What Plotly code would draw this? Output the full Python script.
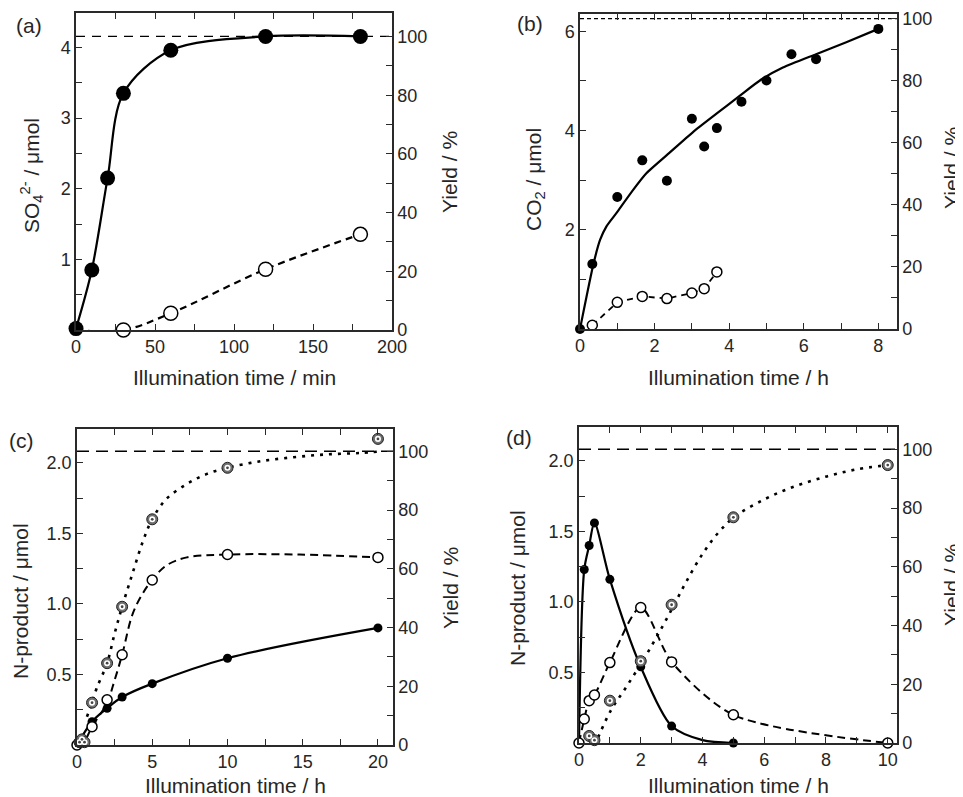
import plotly.graph_objects as go

# page size; the page body adds an 8 px margin, so the figure itself is 8 px smaller
W, H = 963, 797
OFF = 8
FW, FH = W - OFF, H - OFF

# ---------------- Panel (a) ----------------
A_T = [0, 10, 20, 30, 60, 120, 180]
A_SO4 = [0.02, 0.85, 2.15, 3.35, 3.96, 4.155, 4.155]
A_T_YIELD = [0, 30, 60, 120, 180]
A_YIELD = [0, 0, 5.7, 20.7, 32.6]
A_REF_T = [0, 200]
A_REF_UMOL = [4.155, 4.155]          # the 100 % level, in µmol
A_XTICKS = [0, 50, 100, 150, 200]
A_YTICKS = [1, 2, 3, 4]

# ---------------- Panel (b) ----------------
B_T = [0, 0.33, 1.0, 1.67, 2.33, 3.0, 3.33, 3.67, 4.33, 5.0, 5.67, 6.33, 8.0]
B_CO2 = [0, 1.31, 2.66, 3.40, 2.99, 4.24, 3.68, 4.05, 4.58, 5.01, 5.54, 5.44, 6.05]
B_FIT_T = [0, 0.36, 0.54, 0.71, 1.0, 1.4, 1.78, 2.41, 3.03, 3.66, 4.28, 4.86, 5.44, 6.33, 7.14, 8.0]
B_FIT = [0, 1.31, 1.80, 2.07, 2.36, 2.78, 3.14, 3.56, 3.97, 4.34, 4.70, 5.03, 5.27, 5.54, 5.78, 6.05]
B_T_YIELD = [0.33, 1.0, 1.67, 2.33, 3.0, 3.33, 3.67]
B_YIELD = [1.2, 8.6, 10.5, 9.8, 11.6, 13.0, 18.4]
B_REF_T = [0, 8.5]
B_REF = [100, 100]
B_XTICKS = [0, 2, 4, 6, 8]
B_YTICKS = [2, 4, 6]

# ---------------- Panel (c) ----------------
C_FILLED_T = [0, 1, 2, 3, 5, 10, 20]
C_FILLED = [0, 0.165, 0.26, 0.34, 0.435, 0.615, 0.83]
C_OPEN_T = [0, 0.17, 1, 2, 3, 5, 10, 20]
C_OPEN = [0, 0.02, 0.13, 0.32, 0.64, 1.17, 1.35, 1.33]
C_BULL_T = [0.17, 0.33, 0.5, 1, 2, 3, 5, 10, 20]
C_BULL = [0.02, 0.04, 0.02, 0.30, 0.58, 0.98, 1.60, 1.965, 2.17]
C_DASH_T = [0, 0.5, 1, 2, 2.5, 3, 3.7, 4.4, 5, 5.9, 7.3, 10, 14.8, 20]
C_DASH = [0, 0.03, 0.13, 0.30, 0.46, 0.64, 0.93, 1.08, 1.17, 1.27, 1.33, 1.35, 1.35, 1.33]
C_DOT_T = [0.66, 1.0, 1.3, 2.0, 2.5, 3.0, 3.7, 4.4, 5.0, 5.9, 7.3, 8.6, 10, 12.1, 14.4, 16.6, 18.8, 20]
C_DOT = [0.20, 0.30, 0.40, 0.58, 0.79, 0.98, 1.22, 1.45, 1.60, 1.74, 1.85, 1.92, 1.965, 2.01, 2.04, 2.06, 2.07, 2.08]
C_REF_T = [0, 21]
C_REF = [100, 100]
C_XTICKS = [0, 5, 10, 15, 20]
C_YTICKS = [0.5, 1.0, 1.5, 2.0]

# ---------------- Panel (d) ----------------
D_FILLED_T = [0, 0.17, 0.33, 0.5, 1, 2, 3, 5]
D_FILLED = [0, 1.23, 1.40, 1.56, 1.16, 0.54, 0.12, 0.0]
D_SOLID_T = [0, 0.17, 0.33, 0.5, 1, 2, 3, 4, 5]
D_SOLID = [0, 1.23, 1.40, 1.56, 1.16, 0.54, 0.12, 0.02, 0.0]
D_OPEN_T = [0, 0.17, 0.33, 0.5, 1, 2, 3, 5, 10]
D_OPEN = [0, 0.17, 0.30, 0.34, 0.57, 0.96, 0.575, 0.20, 0.0]
D_BULL_T = [0.33, 0.5, 1, 2, 3, 5, 10]
D_BULL = [0.05, 0.02, 0.30, 0.58, 0.98, 1.60, 1.97]
D_DOT_T = [0.62, 1.03, 1.54, 2.03, 2.51, 3.01, 3.49, 4.03, 4.51, 5.02, 6.03, 7.0, 8.03, 9.0, 10]
D_DOT = [0.04, 0.23, 0.40, 0.57, 0.75, 0.95, 1.15, 1.35, 1.49, 1.60, 1.73, 1.82, 1.89, 1.94, 1.97]
D_REF_T = [0, 10.3]
D_REF = [100, 100]
D_XTICKS = [0, 2, 4, 6, 8, 10]
D_YTICKS = [0.5, 1.0, 1.5, 2.0]

YIELD_TICKS = [0, 20, 40, 60, 80, 100]

AX = "#2a2a2a"
TXT = "#262626"
FONT = "Liberation Sans, Arial, sans-serif"
TICKFONT = dict(family=FONT, size=18, color=TXT)


def px_x(p):
    return (p - OFF) / FW


def px_y(p):
    return 1 - (p - OFF) / FH


def xaxis(domain, rng, ticks, minor, anchor):
    return dict(domain=domain, range=rng, anchor=anchor, tickmode="array",
                tickvals=ticks, ticktext=[str(t) for t in ticks],
                ticks="inside", ticklen=6, tickwidth=1.2, tickcolor=AX,
                showline=True, linecolor=AX, linewidth=1.5, mirror="ticks",
                showgrid=False, zeroline=False, tickfont=TICKFONT,
                automargin=False,
                minor=dict(tickmode="linear", tick0=0, dtick=minor, ticks="inside",
                           ticklen=6, tickwidth=1.2, tickcolor=AX, showgrid=False))


def yaxis(domain, rng, ticks, texts, minor, anchor, side="left", overlaying=None):
    d = dict(domain=domain, range=rng, anchor=anchor, side=side, tickmode="array",
             tickvals=ticks, ticktext=texts,
             ticks="inside", ticklen=6, tickwidth=1.2, tickcolor=AX,
             showline=True, linecolor=AX, linewidth=1.5, mirror=False,
             showgrid=False, zeroline=False, tickfont=TICKFONT,
             automargin=False,
             minor=dict(tickmode="linear", tick0=0, dtick=minor, ticks="inside",
                        ticklen=6, tickwidth=1.2, tickcolor=AX, showgrid=False))
    if overlaying:
        d["overlaying"] = overlaying
    return d


fig = go.Figure()


def line(x, y, xa, ya, dash="solid", width=2.2, shape="spline", smoothing=1.0, color="black"):
    fig.add_trace(go.Scatter(x=x, y=y, xaxis=xa, yaxis=ya, mode="lines",
                             line=dict(color=color, width=width, dash=dash, shape=shape,
                                       smoothing=smoothing),
                             showlegend=False, hoverinfo="skip"))


def filled(x, y, xa, ya, size):
    fig.add_trace(go.Scatter(x=x, y=y, xaxis=xa, yaxis=ya, mode="markers",
                             marker=dict(symbol="circle", size=size, color="black",
                                         line=dict(color="black", width=0)),
                             cliponaxis=False, showlegend=False))


def opened(x, y, xa, ya, size):
    fig.add_trace(go.Scatter(x=x, y=y, xaxis=xa, yaxis=ya, mode="markers",
                             marker=dict(symbol="circle", size=size, color="white",
                                         line=dict(color="black", width=1.5)),
                             cliponaxis=False, showlegend=False))


def bullseye(x, y, xa, ya, size):
    fig.add_trace(go.Scatter(x=x, y=y, xaxis=xa, yaxis=ya, mode="markers",
                             marker=dict(symbol="circle", size=size, color="#6e6e6e",
                                         line=dict(color="#222", width=1)),
                             cliponaxis=False, showlegend=False))
    fig.add_trace(go.Scatter(x=x, y=y, xaxis=xa, yaxis=ya, mode="markers",
                             marker=dict(symbol="circle", size=size * 0.55, color="white",
                                         line=dict(width=0)),
                             cliponaxis=False, showlegend=False))
    fig.add_trace(go.Scatter(x=x, y=y, xaxis=xa, yaxis=ya, mode="markers",
                             marker=dict(symbol="circle", size=size * 0.25, color="#444",
                                         line=dict(width=0)),
                             cliponaxis=False, showlegend=False))


# ----- panel (a) -----
line(A_REF_T, A_REF_UMOL, "x", "y", dash="9px,7px", width=1.3, shape="linear")
line(A_T, A_SO4, "x", "y", width=2.2, smoothing=0.9)
filled(A_T, A_SO4, "x", "y", 15)
line(A_T_YIELD, A_YIELD, "x", "y2", dash="7px,5px", width=2.2)
opened(A_T_YIELD[1:], A_YIELD[1:], "x", "y2", 14)

# ----- panel (b) -----
line(B_FIT_T, B_FIT, "x2", "y3", width=2.2, smoothing=0.6)
filled(B_T, B_CO2, "x2", "y3", 10)
line(B_REF_T, B_REF, "x2", "y4", dash="4px,3px", width=1.2, shape="linear")
line(B_T_YIELD, B_YIELD, "x2", "y4", dash="6px,5px", width=1.8, shape="linear")
opened(B_T_YIELD, B_YIELD, "x2", "y4", 10)

# ----- panel (c) -----
line(C_DOT_T, C_DOT, "x3", "y5", dash="3px,6px", width=2.6)
line(C_DASH_T, C_DASH, "x3", "y5", dash="8px,5px", width=2.0)
line(C_FILLED_T, C_FILLED, "x3", "y5", width=2.2)
filled(C_FILLED_T, C_FILLED, "x3", "y5", 9)
opened(C_OPEN_T, C_OPEN, "x3", "y5", 10)
bullseye(C_BULL_T, C_BULL, "x3", "y5", 11)
line(C_REF_T, C_REF, "x3", "y6", dash="12px,7px", width=1.4, shape="linear")

# ----- panel (d) -----
line(D_DOT_T, D_DOT, "x4", "y7", dash="3px,6px", width=2.6)
line(D_OPEN_T, D_OPEN, "x4", "y7", dash="8px,5px", width=2.0, smoothing=0.8)
line(D_SOLID_T, D_SOLID, "x4", "y7", width=2.2, smoothing=0.8)
filled(D_FILLED_T, D_FILLED, "x4", "y7", 9)
opened(D_OPEN_T, D_OPEN, "x4", "y7", 10)
bullseye(D_BULL_T, D_BULL, "x4", "y7", 11)
line(D_REF_T, D_REF, "x4", "y8", dash="12px,7px", width=1.4, shape="linear")

# domains (from pixel boxes on the page)
dax = [px_x(76), px_x(392)]
day = [px_y(330), px_y(13)]
dbx = [px_x(580), px_x(897)]
dby = [px_y(329), px_y(14)]
dcx = [px_x(77), px_x(393)]
dcy = [px_y(745), px_y(429)]
ddx = [px_x(579), px_x(897)]
ddy = [px_y(743), px_y(427)]

ytxt = [str(v) for v in YIELD_TICKS]

fig.update_layout(
    width=FW, height=FH, margin=dict(l=0, r=0, t=0, b=0),
    paper_bgcolor="white", plot_bgcolor="rgba(0,0,0,0)",
    font=dict(family=FONT, color=TXT),
    xaxis=xaxis(dax, [0, 200], A_XTICKS, 25, "y"),
    yaxis=yaxis(day, [0, 4.487], A_YTICKS, [str(v) for v in A_YTICKS], 0.5, "x"),
    yaxis2=yaxis(day, [0, 108], YIELD_TICKS, ytxt, 10, "x", side="right", overlaying="y"),
    xaxis2=xaxis(dbx, [0, 8.5], B_XTICKS, 1, "y3"),
    yaxis3=yaxis(dby, [0, 6.35], B_YTICKS, [str(v) for v in B_YTICKS], 1, "x2"),
    yaxis4=yaxis(dby, [0, 101.5], YIELD_TICKS, ytxt, 10, "x2", side="right", overlaying="y3"),
    xaxis3=xaxis(dcx, [0, 21], C_XTICKS, 2.5, "y5"),
    yaxis5=yaxis(dcy, [0, 2.24], C_YTICKS, [f"{v:.1f}" for v in C_YTICKS], 0.25, "x3"),
    yaxis6=yaxis(dcy, [0, 107.6], YIELD_TICKS, ytxt, 10, "x3", side="right", overlaying="y5"),
    xaxis4=xaxis(ddx, [0, 10.3], D_XTICKS, 1, "y7"),
    yaxis7=yaxis(ddy, [0, 2.24], D_YTICKS, [f"{v:.1f}" for v in D_YTICKS], 0.25, "x4"),
    yaxis8=yaxis(ddy, [0, 107.6], YIELD_TICKS, ytxt, 10, "x4", side="right", overlaying="y7"),
)

TITLE = dict(family=FONT, size=21, color=TXT)
annos = [
    # panel labels
    ("(a)", 29, 26, 0), ("(b)", 530, 24, 0), ("(c)", 21, 440, 0), ("(d)", 519, 437, 0),
    # x titles
    ("Illumination time / min", 234, 378, 0), ("Illumination time / h", 738, 378, 0),
    ("Illumination time / h", 235, 785, 0), ("Illumination time / h", 738, 785, 0),
    # left y titles
    ("SO<sub>4</sub><sup>2-</sup> / μmol", 31, 176, -90), ("CO<sub>2</sub> / μmol", 535, 180, -90),
    ("N-product / μmol", 20, 601, -90), ("N-product / μmol", 517, 588, -90),
    # right y titles
    ("Yield / %", 450, 172, -90), ("Yield / %", 951, 168, -90),
    ("Yield / %", 450, 588, -90), ("Yield / %", 951, 585, -90),
]
fig.update_layout(annotations=[
    dict(text=t, x=px_x(x), y=px_y(y), xref="paper", yref="paper", showarrow=False,
         textangle=a, font=TITLE, xanchor="center", yanchor="middle")
    for (t, x, y, a) in annos
])

fig.write_html("out.html")
